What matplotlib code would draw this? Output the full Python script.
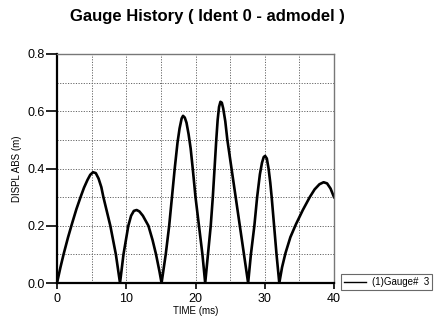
import matplotlib
matplotlib.use('Agg')
import matplotlib.pyplot as plt
from matplotlib.ticker import MultipleLocator

plt.rcParams['font.family'] = ['Liberation Sans', 'DejaVu Sans']

# points (time in ms, abs displacement in m)
time = [0.0, 0.5, 1.0, 1.6, 2.2, 2.8, 3.4, 3.9, 4.4, 4.8, 5.2, 5.6, 6.0, 6.4, 6.7, 7.2, 7.7, 8.1, 8.5, 8.8, 9.1,
        9.6, 10.3, 10.7, 11.1, 11.5, 11.9, 12.4, 13.2, 13.8, 14.3, 14.8, 15.1,
        15.7, 16.2, 16.6, 17.0, 17.4, 17.7, 18.0, 18.2, 18.45, 18.7, 19.0, 19.3, 19.6, 20.0, 20.5, 21.0, 21.4,
        21.8, 22.2, 22.5, 22.75, 23.0, 23.2, 23.4, 23.6, 23.8, 24.0, 24.3, 24.6, 25.2, 25.8, 26.4, 27.0, 27.6,
        28.0, 28.5, 28.9, 29.3, 29.6, 29.85, 30.05, 30.3, 30.55, 30.8, 31.0, 31.35, 31.7, 32.1,
        32.5, 33.0, 33.7, 34.5, 35.5, 36.5, 37.2, 37.9, 38.5, 39.0, 39.5, 40.0]
displ = [0.0, 0.055, 0.105, 0.16, 0.21, 0.258, 0.30, 0.333, 0.36, 0.378, 0.387, 0.384, 0.365, 0.335, 0.30, 0.25, 0.20, 0.15, 0.10, 0.05, 0.0,
         0.10, 0.20, 0.235, 0.252, 0.255, 0.25, 0.235, 0.20, 0.15, 0.10, 0.04, 0.0,
         0.10, 0.20, 0.30, 0.40, 0.49, 0.54, 0.575, 0.584, 0.578, 0.56, 0.52, 0.47, 0.40, 0.30, 0.20, 0.10, 0.0,
         0.10, 0.20, 0.30, 0.40, 0.50, 0.57, 0.615, 0.633, 0.63, 0.61, 0.565, 0.50, 0.40, 0.30, 0.20, 0.10, 0.0,
         0.10, 0.20, 0.30, 0.38, 0.42, 0.44, 0.444, 0.435, 0.40, 0.35, 0.30, 0.20, 0.10, 0.0,
         0.055, 0.105, 0.16, 0.205, 0.255, 0.30, 0.327, 0.345, 0.352, 0.348, 0.33, 0.30]

fig = plt.figure(figsize=(4.47, 3.2), dpi=100)
ax = fig.add_axes([57/447, 1 - 283/320, 277/447, 229/320])

ax.plot(time, displ, color='black', linewidth=1.9, label='(1)Gauge#  3', solid_joinstyle='round')

ax.set_xlim(0, 40)
ax.set_ylim(0, 0.8)
ax.xaxis.set_major_locator(MultipleLocator(10))
ax.xaxis.set_minor_locator(MultipleLocator(5))
ax.yaxis.set_minor_locator(MultipleLocator(0.1))
ax.set_yticks([0.0, 0.2, 0.4, 0.6, 0.8])
ax.set_yticklabels(['0.0', '0.2', '0.4', '0.6', '0.8'])
ax.grid(True, which='both', linestyle=(0, (1.2, 1.5)), color='#666666', linewidth=0.7)

ax.tick_params(axis='y', which='major', direction='out', length=8, width=1.2, pad=1, labelsize=9)
ax.tick_params(axis='x', which='major', direction='out', length=4, width=1.2, pad=3, labelsize=9)
ax.tick_params(which='minor', length=0)

for side in ['left', 'bottom']:
    ax.spines[side].set_linewidth(1.6)
    ax.spines[side].set_color('black')
for side in ['top', 'right']:
    ax.spines[side].set_linewidth(1.0)
    ax.spines[side].set_color('#777777')

ax.set_xlabel('TIME (ms)', fontsize=7, labelpad=1)
ax.set_ylabel('DISPL ABS (m)', fontsize=7, labelpad=4)

fig.text(207/447, 1 - 17/320, 'Gauge History ( Ident 0 - admodel )',
         ha='center', va='center', fontsize=12, fontweight='bold')

leg = fig.legend(loc='lower left', bbox_to_anchor=(341/447, 1 - 290/320),
                 fontsize=7, frameon=True, fancybox=False, handlelength=2.3,
                 borderpad=0.3, handletextpad=0.6, borderaxespad=0)
leg.get_frame().set_edgecolor('#444444')
leg.get_frame().set_linewidth(0.8)
for h in leg.legend_handles:
    h.set_linewidth(1.0)

fig.savefig('out.png', dpi=100)
